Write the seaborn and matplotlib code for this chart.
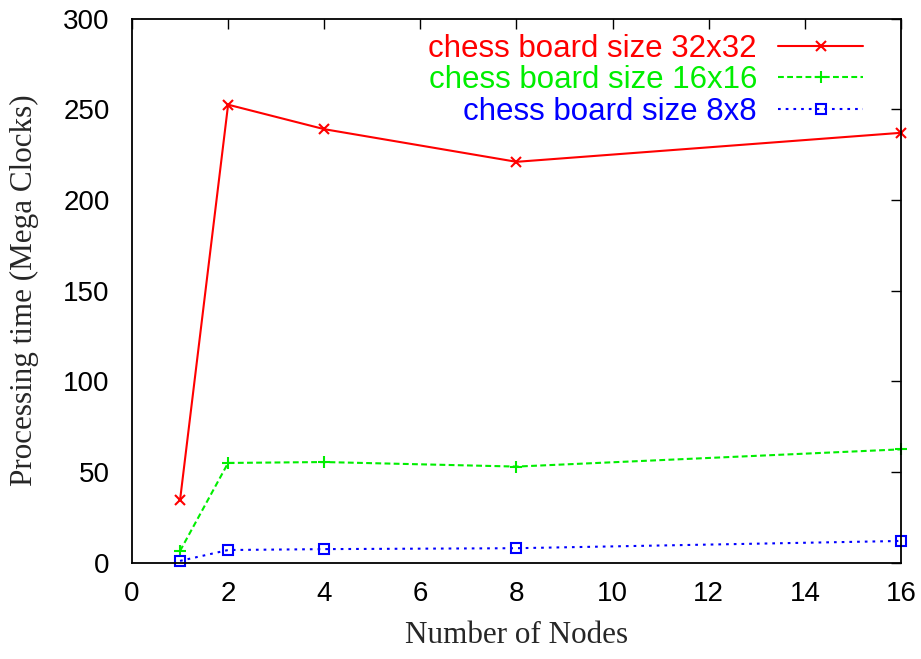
import matplotlib
matplotlib.use("Agg")
import matplotlib.pyplot as plt
import seaborn as sns
import pandas as pd

nodes = [1, 2, 4, 8, 16]
board_32 = [34.5, 252.5, 239, 221, 237]
board_16 = [6.5, 55, 55.5, 53, 62.5]
board_8 = [1, 7, 7.5, 8, 12]
labels = ["chess board size 32x32", "chess board size 16x16", "chess board size 8x8"]
x_ticks = [0, 2, 4, 6, 8, 10, 12, 14, 16]
y_ticks = [0, 50, 100, 150, 200, 250, 300]

sns.set_theme(style="white")
plt.rcParams['font.family'] = ['Liberation Sans', 'DejaVu Sans']

df = pd.concat([
    pd.DataFrame({"nodes": nodes, "time": vals, "series": lab})
    for vals, lab in zip([board_32, board_16, board_8], labels)
])

fig = plt.figure(figsize=(9.21, 6.59), dpi=100)
ax = fig.add_axes([0.1433, 0.1461, 0.8350, 0.8258])

colors = ["#ff0000", "#00ee00", "#0000ff"]
styles = [
    dict(linestyle="-", marker="x", markersize=7),
    dict(linestyle=(0, (2.8, 1.6)), marker="+", markersize=8),
    dict(linestyle=(0, (1.3, 2.4)), marker="s", markersize=7, markerfacecolor="none"),
]
for lab, col, st in zip(labels, colors, styles):
    sub = df[df["series"] == lab]
    sns.lineplot(data=sub, x="nodes", y="time", ax=ax, label=lab, linewidth=1.5,
                 color=col, markeredgecolor=col, markeredgewidth=1.5,
                 clip_on=False, **st)

ax.set_xlim(0, 16)
ax.set_ylim(0, 300)
ax.set_xticks(x_ticks)
ax.set_yticks(y_ticks)
ax.tick_params(direction="in", length=7, width=1, top=True, right=True,
               labelsize=20, colors="black")
ax.tick_params(axis="x", pad=13)
ax.tick_params(axis="y", pad=16)
for sp in ax.spines.values():
    sp.set_color("black")
    sp.set_linewidth(1.3)

ax.set_xlabel("Number of Nodes", family="Liberation Serif", fontsize=22.4)
ax.set_ylabel("Processing time (Mega Clocks)", family="Liberation Serif", fontsize=22.4)
ax.xaxis.set_label_coords(0.5, -0.107)
ax.yaxis.set_label_coords(-0.121, 0.5)

leg = ax.legend(loc="upper right", bbox_to_anchor=(0.9506, 0.9715), frameon=False,
                markerfirst=False, fontsize=22.5, handlelength=2.72, handletextpad=0.67,
                labelspacing=0.04, labelcolor="linecolor", borderaxespad=0, borderpad=0)

fig.savefig("out.png", dpi=100)
